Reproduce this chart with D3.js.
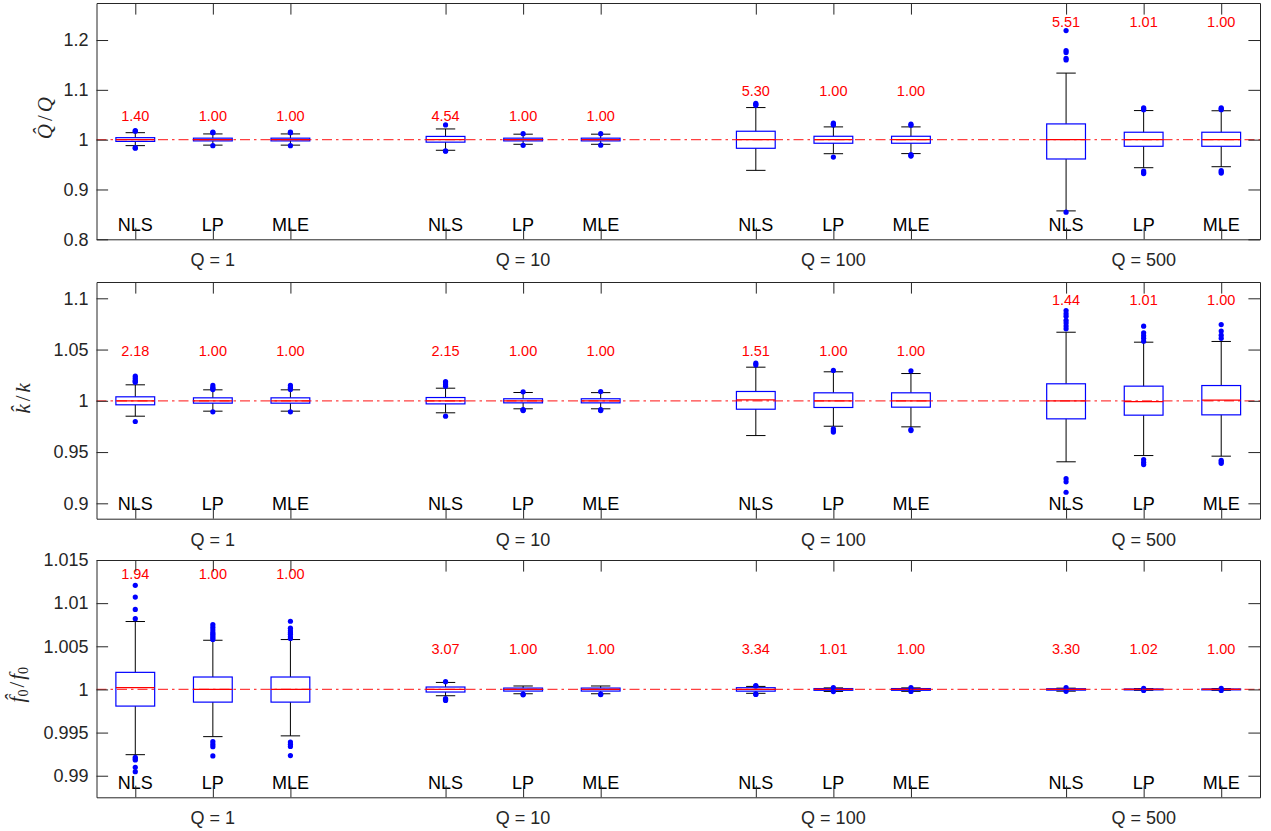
<!DOCTYPE html>
<html><head><meta charset="utf-8">
<script src="https://cdn.jsdelivr.net/npm/d3@7"></script>
<style>body{margin:0;background:#fff}</style>
</head><body><svg id="c" width="1271" height="831"></svg>
<script>
// ---------------- data ----------------
const methods = ["NLS", "LP", "MLE"];
const groups = ["Q = 1", "Q = 10", "Q = 100", "Q = 500"];

// Panel 1 : Q-hat / Q
const qYLim = [0.8, 1.2743];
const qTicks = [0.8, 0.9, 1, 1.1, 1.2];
const qLo  = [0.988, 0.989, 0.989, 0.9787, 0.9907, 0.9907, 0.9384, 0.9718, 0.972, 0.857, 0.9437, 0.9457];
const qQ1  = [0.9965, 0.9975, 0.9975, 0.995, 0.9975, 0.9975, 0.9827, 0.9928, 0.9928, 0.9612, 0.9867, 0.9867];
const qMed = [1, 1, 1, 1, 1, 1, 1, 1, 1, 1, 1, 1];
const qQ3  = [1.004, 1.003, 1.003, 1.0065, 1.003, 1.003, 1.0169, 1.0068, 1.0068, 1.0316, 1.0149, 1.0149];
const qHi  = [1.014, 1.0115, 1.0115, 1.0215, 1.011, 1.011, 1.0644, 1.0256, 1.0256, 1.1336, 1.0584, 1.058];
const qOut = [
  [1.017, 1.018, 0.983, 0.984], [1.014, 1.015, 0.988], [1.014, 1.015, 0.988],
  [1.0296, 0.9767, 0.9775], [1.012, 0.9887], [1.012, 0.989],
  [1.069, 1.071, 1.073], [1.0296, 1.031, 1.033, 0.965], [1.029, 1.031, 0.967, 0.968, 0.970],
  [1.160, 1.163, 1.175, 1.179, 1.219, 0.8545], [1.06, 1.062, 1.064, 0.937, 0.934, 0.932], [1.06, 1.062, 1.064, 0.938, 0.935, 0.933]
];
const qRatio = ["1.40", "1.00", "1.00", "4.54", "1.00", "1.00", "5.30", "1.00", "1.00", "5.51", "1.01", "1.00"];
const qRatioAt = [1.038, 1.038, 1.088, 1.227];

// Panel 2 : k-hat / k
const kYLim = [0.885, 1.1159];
const kTicks = [0.9, 0.95, 1, 1.05, 1.1];
const kLo  = [0.985, 0.9899, 0.9899, 0.9883, 0.9922, 0.9922, 0.9661, 0.9752, 0.9746, 0.9405, 0.9466, 0.946];
const kQ1  = [0.9961, 0.9977, 0.9977, 0.997, 0.998, 0.998, 0.9918, 0.9935, 0.9938, 0.9824, 0.986, 0.9863];
const kMed = [1, 1, 1, 1, 1, 1, 1.001, 1, 1, 1, 0.9993, 1.0006];
const kQ3  = [1.0039, 1.0029, 1.0029, 1.0032, 1.002, 1.002, 1.0091, 1.0078, 1.0078, 1.0166, 1.0143, 1.0149];
const kHi  = [1.0156, 1.0107, 1.0107, 1.0123, 1.0081, 1.008, 1.0328, 1.0283, 1.0266, 1.0669, 1.0572, 1.0579];
const kOut = [
  [1.018, 1.019, 1.020, 1.022, 1.024, 0.9798], [1.011, 1.012, 1.013, 1.015, 0.9893], [1.011, 1.012, 1.013, 1.015, 0.9893],
  [1.0143, 1.016, 1.0175, 1.0188, 0.985], [1.0088, 0.9915, 0.991, 0.9905], [1.009, 0.9915, 0.991, 0.9905],
  [1.035, 1.0367], [1.0296, 0.9727, 0.971, 0.9695], [1.0293, 0.972, 0.971],
  [1.0702, 1.073, 1.076, 1.0786, 1.0825, 1.085, 1.088, 0.924, 0.921, 0.9108],
  [1.0581, 1.061, 1.0635, 1.0663, 1.0728, 0.9427, 0.940, 0.9378],
  [1.061, 1.064, 1.068, 1.0744, 0.942, 0.9405, 0.939]
];
const kRatio = ["2.18", "1.00", "1.00", "2.15", "1.00", "1.00", "1.51", "1.00", "1.00", "1.44", "1.01", "1.00"];
const kRatioAt = [1.0437, 1.0437, 1.0437, 1.0933];

// Panel 3 : f0-hat / f0
const fYLim = [0.9875, 1.015];
const fTicks = [0.99, 0.995, 1, 1.005, 1.01, 1.015];
const fLo  = [0.99244, 0.99453, 0.99462, 0.99927, 0.9995, 0.9995, 0.99955, 0.99977, 0.99978, 0.9998, 0.9999, 0.9999];
const fQ1  = [0.99807, 0.99853, 0.99853, 0.9997, 0.99981, 0.99981, 0.9998, 0.9999, 0.9999, 0.99992, 0.99995, 0.99995];
const fMed = [1.0002, 1, 1, 1, 1, 1, 1, 1, 1, 1, 1, 1];
const fQ3  = [1.00198, 1.00144, 1.00144, 1.00028, 1.00016, 1.00016, 1.0002, 1.0001, 1.0001, 1.00008, 1.00005, 1.00005];
const fHi  = [1.00787, 1.0057, 1.00578, 1.00081, 1.0004, 1.0004, 1.00035, 1.00018, 1.00018, 1.00015, 1.0001, 1.0001];
const fOut = [
  [1.0082, 1.00927, 1.0107, 1.01206, 0.99214, 0.99195, 0.99183, 0.99098, 0.99047],
  [1.0058, 1.006, 1.0062, 1.0064, 1.0066, 1.0069, 1.0072, 1.0075, 0.99395, 0.99365, 0.99337, 0.99229],
  [1.0059, 1.0061, 1.0064, 1.0066, 1.0068, 1.0071, 1.0079, 0.9939, 0.99365, 0.9934, 0.99233],
  [1.0009, 0.99895, 0.99885, 0.99872], [0.99938, 0.99945], [0.9994, 0.99945],
  [1.0004, 1.00045, 0.99948, 0.99942], [1.0002, 0.99975], [1.0002, 0.99977],
  [1.0002, 0.99978], [1.00012, 0.99988], [1.00012, 0.99988]
];
const fRatio = ["1.94", "1.00", "1.00", "3.07", "1.00", "1.00", "3.34", "1.01", "1.00", "3.30", "1.02", "1.00"];
const fRatioAt = [1.01276, 1.00415, 1.00415, 1.00415];

// ---------------- layout ----------------
const W = 1271, H = 831;
const left = 96.5, right = 1260;
const panelBands = [[3, 239.3], [282, 518.7], [560, 797.3]];
const panels = [
  {lim: qYLim, ticks: qTicks, lo: qLo, q1: qQ1, med: qMed, q3: qQ3, hi: qHi, out: qOut, ratio: qRatio, ratioAt: qRatioAt, label: "Q", labelX: 52, labelDy: -3},
  {lim: kYLim, ticks: kTicks, lo: kLo, q1: kQ1, med: kMed, q3: kQ3, hi: kHi, out: kOut, ratio: kRatio, ratioAt: kRatioAt, label: "k", labelX: 30, labelDy: -2},
  {lim: fYLim, ticks: fTicks, lo: fLo, q1: fQ1, med: fMed, q3: fQ3, hi: fHi, out: fOut, ratio: fRatio, ratioAt: fRatioAt, label: "f", labelX: 24, labelDy: 6}
];

const svg = d3.select("#c");
svg.append("rect").attr("width", W).attr("height", H).attr("fill", "#fff");

const x = d3.scaleLinear().domain([0.5, 15.5]).range([left, right]);
const posOf = i => Math.floor(i / 3) * 4 + (i % 3) + 1;
const positions = d3.range(12).map(posOf);
const axisCol = "#262626";
const sans = "'Liberation Sans', Arial, Helvetica, sans-serif";
const serif = "'Liberation Serif', 'DejaVu Serif', serif";
const tickLen = 11.6;

panels.forEach((p, pi) => {
  const [top, bottom] = panelBands[pi];
  const y = d3.scaleLinear().domain(p.lim).range([bottom, top]);
  const g = svg.append("g");

  const boxes = g.append("g");
  positions.forEach((pos, i) => {
    const cx = x(pos);
    const bw = x(pos + 0.25) - x(pos);
    const cw = x(pos + 0.125) - x(pos);
    // whiskers
    boxes.append("line").attr("x1", cx).attr("x2", cx).attr("y1", y(p.q3[i])).attr("y2", y(p.hi[i]))
      .attr("stroke", "#000").attr("stroke-width", 1);
    boxes.append("line").attr("x1", cx).attr("x2", cx).attr("y1", y(p.q1[i])).attr("y2", y(p.lo[i]))
      .attr("stroke", "#000").attr("stroke-width", 1);
    // caps
    [p.hi[i], p.lo[i]].forEach(v => {
      boxes.append("line").attr("x1", cx - cw).attr("x2", cx + cw).attr("y1", y(v)).attr("y2", y(v))
        .attr("stroke", "#000").attr("stroke-width", 1);
    });
    // box
    boxes.append("rect").attr("x", cx - bw).attr("width", 2 * bw)
      .attr("y", y(p.q3[i])).attr("height", Math.max(0.5, y(p.q1[i]) - y(p.q3[i])))
      .attr("fill", "none").attr("stroke", "#0000ff").attr("stroke-width", 1.2);
    // median
    boxes.append("line").attr("x1", cx - bw).attr("x2", cx + bw).attr("y1", y(p.med[i])).attr("y2", y(p.med[i]))
      .attr("stroke", "#ff0000").attr("stroke-width", 1.2);
    // outliers
    p.out[i].forEach(v => {
      boxes.append("circle").attr("cx", cx).attr("cy", y(v)).attr("r", 2.6).attr("fill", "#0000ff");
    });
    // ratio labels
    g.append("text").attr("x", cx).attr("y", y(p.ratioAt[Math.floor(i / 3)]))
      .attr("text-anchor", "middle").attr("font-family", sans).attr("font-size", 14.5)
      .attr("fill", "#ff0000").text(p.ratio[i]);
    // method labels
    g.append("text").attr("x", cx).attr("y", bottom - 8.5)
      .attr("text-anchor", "middle").attr("font-family", sans).attr("font-size", 18)
      .attr("fill", "#000").text(methods[i % 3]);
  });

  // reference line at 1
  g.append("line").attr("x1", left).attr("x2", right).attr("y1", y(1)).attr("y2", y(1))
    .attr("stroke", "#ff0000").attr("stroke-opacity", 0.75).attr("stroke-width", 1.2)
    .attr("stroke-dasharray", "10,4,2.5,4");

  // axes
  const fmt = d => String(+d.toFixed(4));
  const aL = d3.axisLeft(y).tickValues(p.ticks).tickFormat(fmt).tickSizeInner(-tickLen).tickSizeOuter(0).tickPadding(8);
  const aR = d3.axisRight(y).tickValues(p.ticks).tickFormat("").tickSizeInner(-tickLen).tickSizeOuter(0);
  const aT = d3.axisTop(x).tickValues(positions).tickFormat("").tickSizeInner(-tickLen).tickSizeOuter(0);
  const aB = d3.axisBottom(x).tickValues(positions).tickFormat("").tickSizeInner(-tickLen).tickSizeOuter(0);
  const style = sel => {
    sel.selectAll("path,line").attr("stroke", axisCol).attr("stroke-width", 1);
    sel.selectAll("text").attr("fill", axisCol).attr("font-family", sans).attr("font-size", 18);
  };
  g.append("g").attr("transform", `translate(${left},0)`).call(aL).call(style);
  g.append("g").attr("transform", `translate(${right},0)`).call(aR).call(style);
  g.append("g").attr("transform", `translate(0,${top})`).call(aT).call(style);
  g.append("g").attr("transform", `translate(0,${bottom})`).call(aB).call(style);

  // group labels
  groups.forEach((lab, gi) => {
    g.append("text").attr("x", x(gi * 4 + 2)).attr("y", bottom + 27)
      .attr("text-anchor", "middle").attr("font-family", sans).attr("font-size", 18)
      .attr("fill", axisCol).text(lab);
  });

  // y label (rotated, LaTeX-like)
  const cy = (top + bottom) / 2 + p.labelDy;
  const t = g.append("text").attr("transform", `translate(${p.labelX},${cy}) rotate(-90)`)
    .attr("text-anchor", "middle").attr("font-family", serif).attr("font-size", 21)
    .attr("fill", axisCol);
  if (p.label === "f") {
    t.append("tspan").attr("font-style", "italic").text("f\u0302");
    t.append("tspan").attr("font-size", 14).attr("dy", 4).text("0");
    t.append("tspan").attr("dy", -4).attr("dx", 2).text("/");
    t.append("tspan").attr("font-style", "italic").attr("dx", 2).text("f");
    t.append("tspan").attr("font-size", 14).attr("dy", 4).text("0");
  } else {
    t.append("tspan").attr("font-style", "italic").text(p.label + "\u0302");
    t.append("tspan").attr("dx", 3).text("/");
    t.append("tspan").attr("font-style", "italic").attr("dx", 3).text(p.label);
  }
});
</script>
</body></html>
